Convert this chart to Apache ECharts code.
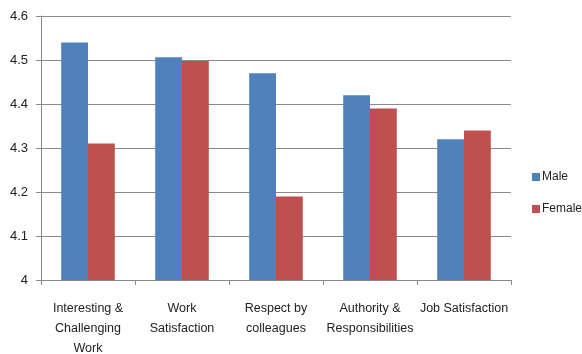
<!DOCTYPE html>
<html>
<head>
<meta charset="utf-8">
<script src="https://cdn.jsdelivr.net/npm/echarts@6/dist/echarts.min.js"></script>
<style>
  html, body { margin: 0; padding: 0; background: #fff; }
  #chart { width: 582px; height: 354px; }
</style>
</head>
<body>
<div id="chart"></div>
<script>
// Job attribute ratings by gender
const categories = [
  'Interesting &\nChallenging\nWork',
  'Work\nSatisfaction',
  'Respect by\ncolleagues',
  'Authority &\nResponsibilities',
  'Job Satisfaction'
];
const maleValues = [4.54, 4.506, 4.47, 4.42, 4.32];
const femaleValues = [4.31, 4.498, 4.19, 4.39, 4.34];
const yTicks = { min: 4, max: 4.6, step: 0.1 };

const FONT = '"Liberation Sans", Arial, sans-serif';

const chart = echarts.init(document.getElementById('chart'), null, { renderer: 'canvas' });
chart.setOption({
  animation: false,
  backgroundColor: '#ffffff',
  grid: { left: 41, right: 71, top: 16, bottom: 74, containLabel: false, outerBoundsMode: 'none' },
  legend: {
    orient: 'vertical',
    left: 527,
    top: 166,
    itemWidth: 8,
    itemHeight: 8,
    itemGap: 20,
    icon: 'rect',
    textStyle: { fontFamily: FONT, fontSize: 12, color: '#222', padding: [0, 0, 0, -3] },
    data: ['Male', 'Female']
  },
  xAxis: {
    type: 'category',
    data: categories,
    axisLine: { lineStyle: { color: '#888', width: 1 } },
    axisTick: { show: true, length: 5, alignWithLabel: false, lineStyle: { color: '#888' } },
    axisLabel: {
      interval: 0,
      margin: 19,
      fontFamily: FONT,
      fontSize: 12.5,
      lineHeight: 20,
      color: '#222'
    }
  },
  yAxis: {
    type: 'value',
    min: yTicks.min,
    max: yTicks.max,
    interval: yTicks.step,
    axisLine: { show: true, lineStyle: { color: '#888', width: 1 } },
    axisTick: { show: true, length: 5, lineStyle: { color: '#888' } },
    splitLine: { lineStyle: { color: '#8a8a8a', width: 1 } },
    axisLabel: {
      margin: 13,
      fontFamily: FONT,
      fontSize: 13,
      color: '#222',
      formatter: v => String(Math.round(v * 10) / 10)
    }
  },
  series: [
    {
      name: 'Male',
      type: 'bar',
      data: maleValues,
      barGap: '0%',
      barCategoryGap: '43%',
      itemStyle: { color: '#4F81BD' }
    },
    {
      name: 'Female',
      type: 'bar',
      data: femaleValues,
      itemStyle: { color: '#C0504D' }
    }
  ]
});
</script>
</body>
</html>
